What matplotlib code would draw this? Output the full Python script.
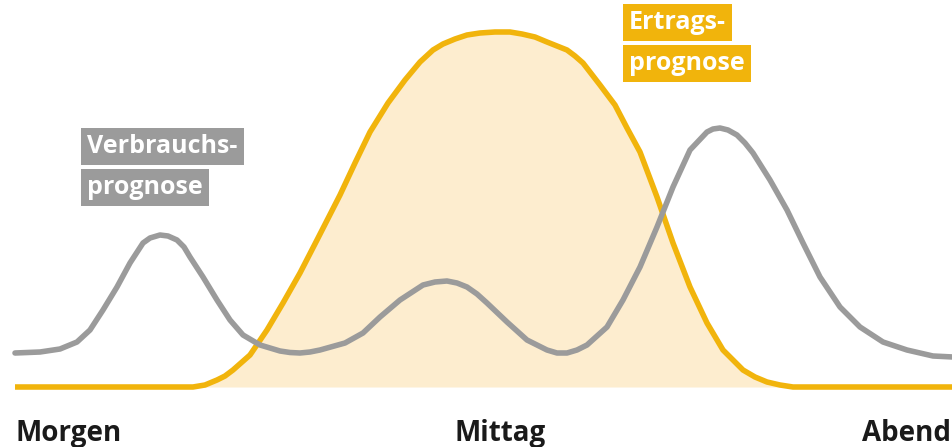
import matplotlib
matplotlib.use('Agg')
import matplotlib.pyplot as plt

plt.rcParams['font.family'] = ['Open Sans', 'DejaVu Sans']

# time axis in px-like units along the day, values = height above baseline
yield_x = [15, 100, 193, 205, 217, 225, 233, 250, 267, 283, 300, 317, 340, 355,
           370, 388, 405, 420, 433, 443, 455, 467, 480, 495, 510, 522, 535, 547,
           557, 567, 575, 583, 600, 615, 627, 640, 657, 673, 690, 707, 723, 743,
           755, 767, 780, 793, 953]
yield_y = [0, 0, 0, 2, 7, 11, 17, 32, 57, 84, 114, 147, 192, 224,
           255, 284, 307, 325, 337, 343, 348, 352, 354, 355, 355, 353, 350, 345,
           341, 337, 331, 324, 302, 282, 259, 235, 190, 144, 100, 64, 37, 17,
           10, 5, 2, 0, 0]

use_x = [15, 40, 60, 77, 90, 103, 117, 130, 143, 150, 160, 168, 177, 184,
         190, 203, 217, 230, 243, 260, 280, 290, 300, 310, 320, 345, 363, 380,
         400, 423, 435, 447, 457, 467, 477, 487, 507, 527, 547, 557, 567, 577,
         587, 607, 623, 640, 657, 673, 690, 707, 713, 720, 728, 737, 745, 753,
         770, 787, 803, 820, 840, 860, 883, 907, 933, 953]
use_y = [34, 35, 38, 45, 57, 77, 100, 124, 144, 149, 152, 151, 147, 140,
         130, 110, 87, 67, 52, 42, 36, 34.5, 34, 35, 37, 44, 54, 70,
         87, 102, 105, 106, 104, 100, 93, 84, 65, 47, 37, 34, 34, 37,
         42, 60, 87, 120, 160, 200, 237, 255, 258, 259, 257, 252, 244, 234,
         207, 177, 144, 110, 80, 60, 45, 37, 31, 30]

day_labels = ['Morgen', 'Mittag', 'Abend']

YELLOW = '#f1b40c'
FILL = '#fdedcf'
GREY = '#9b9b9b'

fig = plt.figure(figsize=(9.53, 4.47), dpi=100)
ax = fig.add_axes([0, 0, 1, 1])
ax.set_xlim(0, 953)
ax.set_ylim(-60, 387)
ax.axis('off')

ax.fill_between(yield_x, yield_y, 0, color=FILL, lw=0, zorder=1)
ax.plot(yield_x, yield_y, color=YELLOW, lw=4, solid_capstyle='butt',
        solid_joinstyle='round', zorder=2)
ax.plot(use_x, use_y, color=GREY, lw=4, solid_capstyle='round',
        solid_joinstyle='round', zorder=3)

# bottom labels
ax.text(16, -54, day_labels[0], fontsize=20, fontweight='bold', color='#1a1a1a',
        ha='left', va='baseline')
ax.text(500, -54, day_labels[1], fontsize=20, fontweight='bold', color='#1a1a1a',
        ha='center', va='baseline')
ax.text(951, -54, day_labels[2], fontsize=20, fontweight='bold', color='#1a1a1a',
        ha='right', va='baseline')

# boxed series labels
box_kw = dict(fontsize=18, fontweight='bold', color='white', ha='left',
              va='baseline')
ax.text(87, 234, 'Verbrauchs-', bbox=dict(boxstyle='square,pad=0.25', fc=GREY, ec='none'), **box_kw)
ax.text(87, 193, 'prognose', bbox=dict(boxstyle='square,pad=0.25', fc=GREY, ec='none'), **box_kw)
ax.text(629, 358, 'Ertrags-', bbox=dict(boxstyle='square,pad=0.25', fc=YELLOW, ec='none'), **box_kw)
ax.text(629, 317, 'prognose', bbox=dict(boxstyle='square,pad=0.25', fc=YELLOW, ec='none'), **box_kw)

fig.savefig('out.png', dpi=100)
